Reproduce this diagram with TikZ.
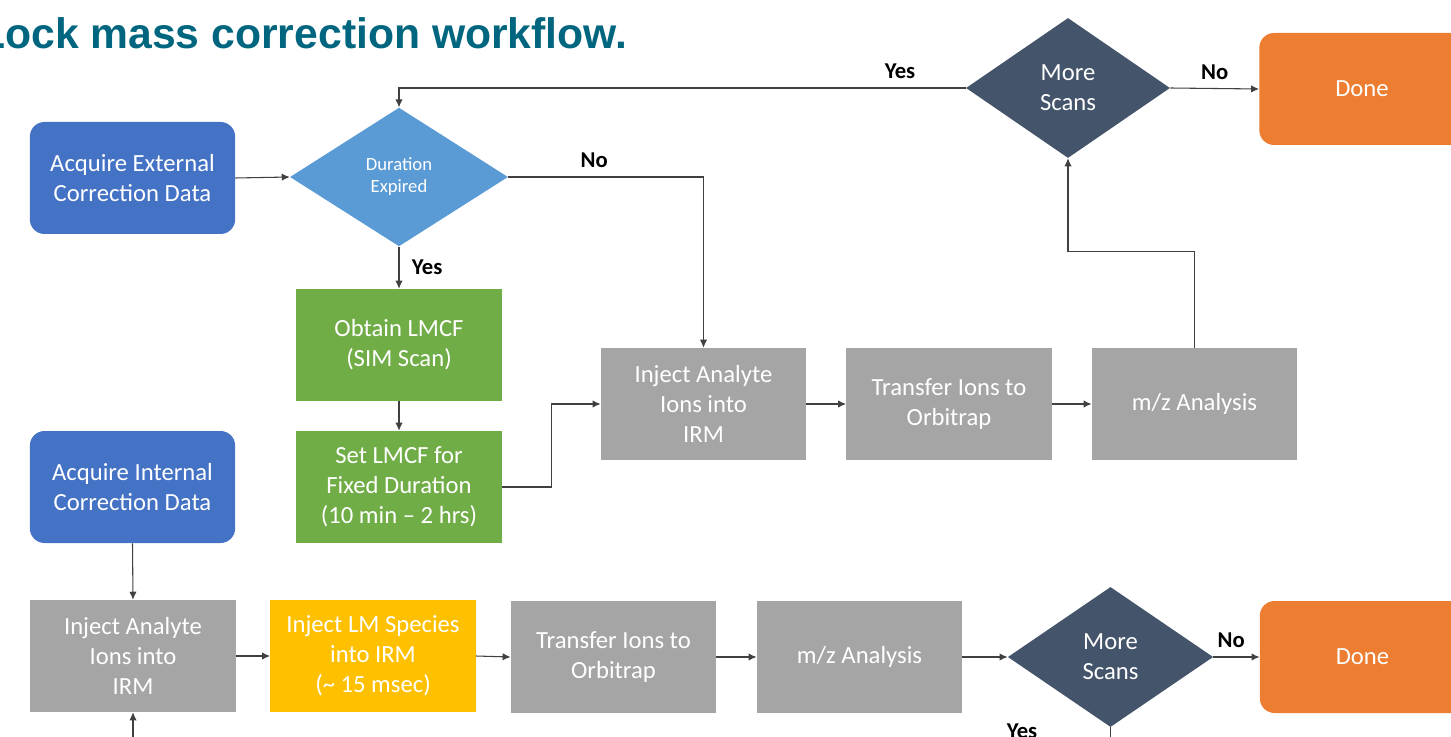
\documentclass[tikz,border=0pt]{standalone}
\usepackage{fontspec}
\setmainfont{Carlito}
\newfontfamily\titlefont{Liberation Sans}
\usetikzlibrary{positioning}
\usetikzlibrary{shapes.geometric}
\usetikzlibrary{arrows.meta}

\definecolor{acqblue}{HTML}{4472C4}
\definecolor{durblue}{HTML}{5B9BD5}
\definecolor{lmgreen}{HTML}{70AD47}
\definecolor{stepgray}{HTML}{A5A5A5}
\definecolor{lmyellow}{HTML}{FFC000}
\definecolor{doneorange}{HTML}{ED7D31}
\definecolor{moreslate}{HTML}{44546A}
\definecolor{titleteal}{HTML}{00667F}
\definecolor{wire}{HTML}{404040}

\begin{document}
\begin{tikzpicture}[x=0.75pt, y=-0.75pt,
	box/.style={rectangle, minimum width=154pt, minimum height=84pt, inner sep=2pt, text=white, align=center, font=\fontsize{18.5}{22.5}\selectfont},
	roundbox/.style={box, rounded corners=11pt},
	decision/.style={diamond, inner sep=0pt, text=white, align=center, font=\fontsize{18.5}{22.5}\selectfont},
	flow/.style={-{Latex[length=6pt,width=5.5pt]}, line width=0.8pt, draw=wire},
	answer/.style={font=\bfseries\fontsize{17}{20}\selectfont, text=black}]

	\clip (0,0) rectangle (1451,737);

	\node[anchor=base east, text=titleteal, font=\titlefont\bfseries\fontsize{32}{38}\selectfont](title) at (632,49){Lock mass correction workflow.};

	% external correction branch
	\node[roundbox, fill=acqblue](extacq) at (132.5,178){Acquire External\\Correction Data};
	\node[decision, fill=durblue, minimum width=163.5pt, minimum height=104pt, font=\fontsize{14}{16.5}\selectfont](durexp) at (399,177){Duration\\Expired};
	\node[box, fill=lmgreen](obtain) at (399,345){Obtain LMCF\\(SIM Scan)};
	\node[box, fill=lmgreen](setlm) at (399,487){Set LMCF for\\Fixed Duration\\(10 min -- 2 hrs)};
	\node[box, fill=stepgray](injtop) at (703.5,404){Inject Analyte\\Ions into\\IRM};
	\node[box, fill=stepgray](trtop) at (949,404){Transfer Ions to\\Orbitrap};
	\node[box, fill=stepgray](mztop) at (1194.5,404){m/z Analysis};
	\node[decision, fill=moreslate, minimum width=153pt, minimum height=105pt](moretop) at (1068,88){More\\Scans};
	\node[roundbox, fill=doneorange](donetop) at (1362,89){Done};

	% internal correction branch
	\node[roundbox, fill=acqblue](extint) at (132.5,487){Acquire Internal\\Correction Data};
	\node[box, fill=stepgray](injbot) at (133,656){Inject Analyte\\Ions into\\IRM};
	\node[box, fill=lmyellow](lmspec) at (373,656){Inject LM Species\\into IRM\\(\~{} 15 msec)};
	\node[box, fill=stepgray](trbot) at (613.5,657){Transfer Ions to\\Orbitrap};
	\node[box, fill=stepgray](mzbot) at (859.5,657){m/z Analysis};
	\node[decision, fill=moreslate, minimum width=154pt, minimum height=105pt](morebot) at (1110.5,657){More\\Scans};
	\node[roundbox, fill=doneorange](donebot) at (1362.5,657){Done};
	\node[answer](yesloop) at (1022,731){Yes};

	\draw [flow] (extacq.east) -- (durexp.west);
	\draw [flow] (durexp.south) -- node[answer, right=6pt]{Yes} (obtain.north);
	\draw [flow] (durexp.east) -| node[answer, pos=0.22, above=3pt]{No} (injtop.north);
	\draw [flow] (obtain.south) -- (setlm.north);
	\draw [flow] (setlm.east) -- ++(50,0) |- (injtop.west);
	\draw [flow] (injtop.east) -- (trtop.west);
	\draw [flow] (trtop.east) -- (mztop.west);
	\draw [flow] (mztop.north) -- ++(0,-96) -| (moretop.south);
	\draw [flow] (moretop.west) -| node[answer, pos=0.058, above=3pt]{Yes} (durexp.north);
	\draw [flow] (moretop.east) -- node[answer, above=3pt]{No} (donetop.west);

	\draw [flow] (extint.south) -- (injbot.north);
	\draw [flow] (injbot.east) -- (lmspec.west);
	\draw [flow] (lmspec.east) -- (trbot.west);
	\draw [flow] (trbot.east) -- (mzbot.west);
	\draw [flow] (mzbot.east) -- (morebot.west);
	\draw [flow] (morebot.east) -- node[answer, above=3pt, xshift=-4pt]{No} (donebot.west);
	\draw [flow] (morebot.south) -- ++(0,45) -| (injbot.south);

\end{tikzpicture}
\end{document}
